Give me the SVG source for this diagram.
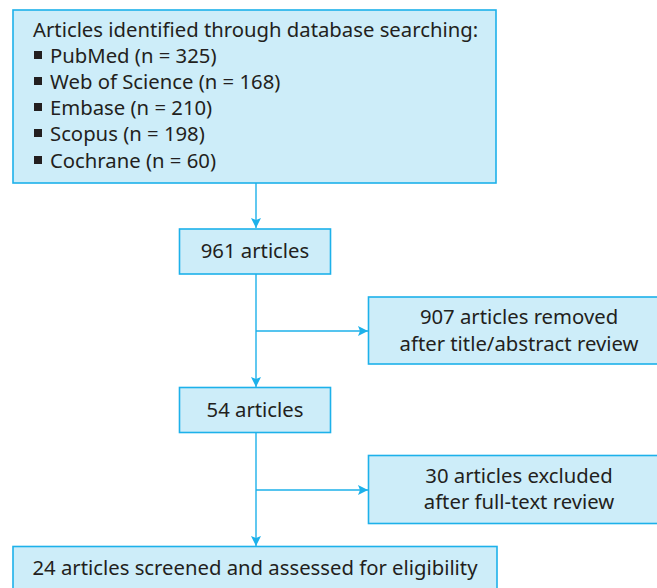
<svg xmlns="http://www.w3.org/2000/svg" width="657" height="588" viewBox="0 0 657 588">
<defs>
<style>
.box{fill:#cdedf9;stroke:#1db1ea;stroke-width:1.6}
.t{font-family:"Noto Sans","Open Sans",sans-serif;font-size:20.3px;fill:#231f20}
.c{text-anchor:middle}
.ln{fill:none;stroke:#1db1ea;stroke-width:1.4}
.b{fill:#231f20}
</style>
<marker id="ah" viewBox="0 0 10 10" refX="10" refY="5" markerWidth="10" markerHeight="10" markerUnits="userSpaceOnUse" orient="auto">
<path d="M0,0 L10,5 L0,10 L2,5 Z" fill="#1db1ea"/>
</marker>
</defs>
<rect width="657" height="588" fill="#fff"/>
<g id="connectors">
<line class="ln" x1="256" y1="183" x2="256" y2="228" marker-end="url(#ah)"/>
<line class="ln" x1="256" y1="274" x2="256" y2="387" marker-end="url(#ah)"/>
<line class="ln" x1="256" y1="331" x2="368" y2="331" marker-end="url(#ah)"/>
<line class="ln" x1="256" y1="433" x2="256" y2="546" marker-end="url(#ah)"/>
<line class="ln" x1="256" y1="490" x2="368" y2="490" marker-end="url(#ah)"/>
</g>
<g id="sources">
<rect class="box" x="13" y="10" width="483" height="173"/>
<text class="t" x="33" y="37">Articles identified through database searching:</text>
<rect class="b" x="34" y="51" width="8" height="8"/>
<text class="t" x="50" y="63">PubMed (n = 325)</text>
<rect class="b" x="34" y="77" width="8" height="8"/>
<text class="t" x="50" y="89">Web of Science (n = 168)</text>
<rect class="b" x="34" y="103" width="8" height="8"/>
<text class="t" x="50" y="115">Embase (n = 210)</text>
<rect class="b" x="34" y="129" width="8" height="8"/>
<text class="t" x="50" y="141">Scopus (n = 198)</text>
<rect class="b" x="34" y="156" width="8" height="8"/>
<text class="t" x="50" y="168">Cochrane (n = 60)</text>
</g>
<g id="n961">
<rect class="box" x="179.5" y="229" width="151" height="45"/>
<text class="t c" x="255" y="258">961 articles</text>
</g>
<g id="removed">
<rect class="box" x="368.5" y="297" width="302" height="67"/>
<text class="t c" x="519" y="324">907 articles removed</text>
<text class="t c" x="519" y="351">after title/abstract review</text>
</g>
<g id="n54">
<rect class="box" x="179.5" y="387.5" width="151" height="45"/>
<text class="t c" x="255" y="417">54 articles</text>
</g>
<g id="excluded">
<rect class="box" x="368.5" y="455.5" width="302" height="68"/>
<text class="t c" x="519" y="483">30 articles excluded</text>
<text class="t c" x="519" y="509">after full-text review</text>
</g>
<g id="final">
<rect class="box" x="13" y="546.5" width="484" height="50"/>
<text class="t c" x="255" y="575">24 articles screened and assessed for eligibility</text>
</g>
</svg>
